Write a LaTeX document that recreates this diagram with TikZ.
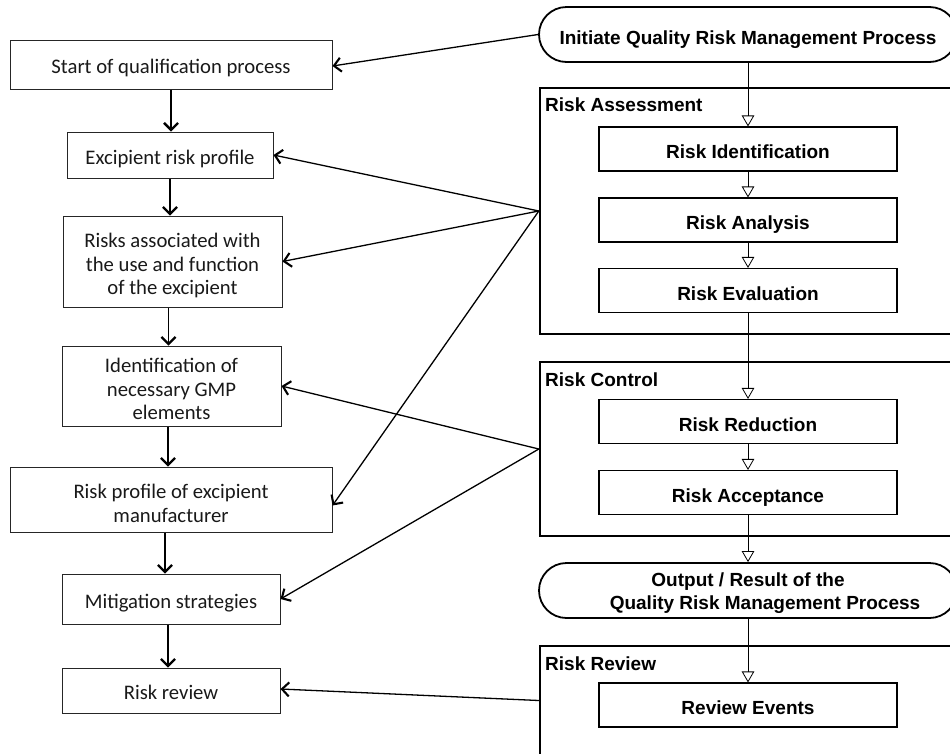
\documentclass[tikz,border=0pt]{standalone}
\usepackage{fontspec}
\setmainfont{Carlito}
\newfontfamily\rfont{Liberation Sans}
\usetikzlibrary{arrows.meta}
\begin{document}
\begin{tikzpicture}[x=1pt,y=-1pt,
  lfont/.style={font=\fontsize{20.7}{23.8}\selectfont},
  rfnt/.style={font=\rfont\bfseries\fontsize{19}{22.5}\selectfont},
  lbox/.style={draw=black!85, line width=1pt, inner sep=0pt, align=center,
    text=black!90, lfont, text height=18.7pt, text depth=0pt},
  ltxt/.style={inner sep=0pt, align=center, text=black!90, lfont},
  rbox/.style={draw=black, line width=1.1pt, inner sep=0pt,
    minimum width=298, minimum height=44, rfnt, text height=19.6pt, text depth=0pt},
  term/.style={draw=black, line width=1.8pt, rounded corners=27.5pt, inner sep=0pt,
    minimum width=418, minimum height=55, rfnt, text height=19.6pt, text depth=0pt},
  ttxt/.style={inner sep=0pt, align=center, rfnt},
  grp/.style={draw=black, line width=2.4pt, inner sep=0pt, minimum width=420},
  glabel/.style={anchor=north west, inner sep=0pt, rfnt},
  flow/.style={line width=1.6pt, -{Straight Barb[length=7pt,width=14pt,line width=2.3pt]}},
  link/.style={line width=1.3pt, -{Straight Barb[length=7pt,width=14pt,line width=2.1pt]}},
  seq/.style={line width=0.8pt, -{Triangle[open,length=11pt,width=12.5pt]}}]
\useasboundingbox (0,0) rectangle (950,753);

% ---- qualification process (left column)
\node[lbox, minimum width=322, minimum height=49] (start) at (171,64.5) {Start of qualification process};
\node[lbox, minimum width=206, minimum height=46] (prof) at (170,155) {Excipient risk profile};
\node[lbox, minimum width=219, minimum height=91,
  label={[ltxt,yshift=-4pt]center:{Risks associated with\\the use and function\\of the excipient}}]
  (use) at (172.5,261.5) {};
\node[lbox, minimum width=219, minimum height=80,
  label={[ltxt,yshift=-3pt]center:{Identification of\\necessary GMP\\elements}}]
  (gmp) at (171.5,386) {};
\node[lbox, minimum width=322, minimum height=65,
  label={[ltxt,yshift=-4pt]center:{Risk profile of excipient\\manufacturer}}]
  (mfr) at (171,499.5) {};
\node[lbox, minimum width=218, minimum height=50] (mit) at (171,599) {Mitigation strategies};
\node[lbox, minimum width=218, minimum height=45] (rev) at (171,690.5) {Risk review};

\draw[flow] (start.south) -- (start.south |- prof.north);
\draw[flow] (prof.south) -- (prof.south |- use.north);
\draw[flow] ([xshift=-4]use.south) -- ([xshift=-4]use.south |- gmp.north);
\draw[flow] ([xshift=-3.5]gmp.south) -- ([xshift=-3.5]gmp.south |- mfr.north);
\draw[flow] ([xshift=-6]mfr.south) -- ([xshift=-6]mfr.south |- mit.north);
\draw[flow] ([xshift=-3]mit.south) -- ([xshift=-3]mit.south |- rev.north);

% ---- quality risk management process (right column)
\node[grp, minimum height=246] (ra) at (750,211) {};
\node[grp, minimum height=174] (rc) at (750,449) {};
\node[grp, minimum height=109] (rr) at (750,700.5) {};
\node[glabel] (ralab) at (545,98) {Risk Assessment};
\node[glabel] (rclab) at (545,373) {Risk Control};
\node[glabel] (rrlab) at (545,657) {Risk Review};

\node[term] (init) at (748,34.5) {Initiate Quality Risk Management Process};
\node[rbox] (ident) at (748,149) {Risk Identification};
\node[rbox] (anal) at (748,220) {Risk Analysis};
\node[rbox] (eval) at (748,290.5) {Risk Evaluation};
\node[rbox] (red) at (748,421.5) {Risk Reduction};
\node[rbox] (acc) at (748,492.5) {Risk Acceptance};
\node[term, label={[ttxt,yshift=-2.5pt]center:{Output / Result of the\\\hspace*{34pt}Quality Risk Management Process}}]
  (out) at (748,590.5) {};
\node[rbox] (events) at (748,705) {Review Events};

\draw[seq] (init) -- (ident);
\draw[seq] (ident) -- (anal);
\draw[seq] (anal) -- (eval);
\draw[seq] (eval) -- (red);
\draw[seq] (red) -- (acc);
\draw[seq] (acc) -- (out);
\draw[seq] (out) -- (events);

% ---- links between the two processes
\draw[link] (init.west) -- ([yshift=-1.5]start.east);
\draw[link] (ra.west) -- (prof.east);
\draw[link] (ra.west) -- (use.east);
\draw[link] (ra.west) -- ([yshift=-6]mfr.east);
\draw[link] (rc.west) -- (gmp.east);
\draw[link] (rc.west) -- (mit.east);
\draw[link] (rr.west) -- ([yshift=1.5]rev.east);
\end{tikzpicture}
\end{document}
